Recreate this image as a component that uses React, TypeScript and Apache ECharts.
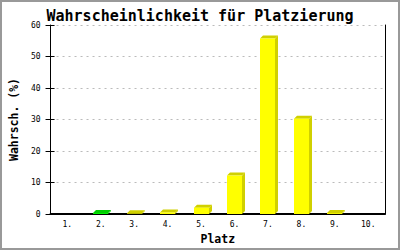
import React, { useEffect, useRef } from "react";
import * as echarts from "echarts";

const categories = ["1.", "2.", "3.", "4.", "5.", "6.", "7.", "8.", "9.", "10."];
const values = [0, 0.3, 0.2, 0.5, 2.0, 12.2, 55.7, 30.2, 0.3, 0];
const highlightIndex = 1;
const yTicks = [0, 10, 20, 30, 40, 50, 60];

const FONT = "DejaVu Sans Mono";

export default function App() {
  const ref = useRef<HTMLDivElement>(null);
  useEffect(() => {
    if (!ref.current) return;
    const chart = echarts.init(ref.current, null, { renderer: "svg" });
    const yMin = yTicks[0];
    const yMax = yTicks[yTicks.length - 1];
    const interval = yTicks[1] - yTicks[0];
    const yCommon = { type: "value" as const, min: yMin, max: yMax, interval };
    chart.setOption({
      animation: false,
      backgroundColor: "#ffffff",
      title: {
        text: "Wahrscheinlichkeit für Platzierung",
        left: "center",
        top: 3,
        textStyle: { fontFamily: FONT, fontSize: 15, fontWeight: "bold", color: "#000" },
      },
      graphic: [
        {
          type: "rect",
          shape: { x: 1, y: 1, width: 398, height: 248 },
          style: { fill: "none", stroke: "#999999", lineWidth: 2 },
          silent: true,
        },
      ],
      grid: { left: 43, right: 15, top: 25, bottom: 36 },
      xAxis: {
        type: "category",
        data: categories,
        boundaryGap: true,
        axisLine: { show: true, lineStyle: { color: "#000", width: 2 } },
        axisTick: { show: false },
        axisLabel: { fontFamily: FONT, fontSize: 8, color: "#000", margin: 6 },
        splitLine: { show: false },
        name: "Platz",
        nameLocation: "middle",
        nameGap: 18,
        nameTextStyle: { fontFamily: FONT, fontSize: 11.5, fontWeight: "bold", color: "#000" },
      },
      yAxis: [
        {
          ...yCommon,
          position: "left",
          axisLine: { show: true, lineStyle: { color: "#000", width: 1 } },
          axisTick: { show: true, length: 5, lineStyle: { color: "#000" } },
          axisLabel: { fontFamily: FONT, fontSize: 8, color: "#000", margin: 10 },
          splitLine: { show: true, lineStyle: { color: "#bbbbbb", type: [2, 4], width: 1 } },
          name: "Wahrsch. (%)",
          nameLocation: "middle",
          nameRotate: 90,
          nameGap: 24,
          nameTextStyle: { fontFamily: FONT, fontSize: 11.5, fontWeight: "bold", color: "#000" },
        },
        {
          ...yCommon,
          position: "left",
          axisLine: { show: false },
          axisTick: { show: true, inside: true, length: 4, lineStyle: { color: "#000" } },
          axisLabel: { show: false },
          splitLine: { show: false },
        },
        {
          ...yCommon,
          position: "right",
          axisLine: { show: true, lineStyle: { color: "#000", width: 1 } },
          axisTick: { show: false },
          axisLabel: { show: false },
          splitLine: { show: false },
        },
      ],
      series: [
        {
          type: "custom",
          xAxisIndex: 0,
          yAxisIndex: 0,
          data: values.map((v, i) => [i, v]),
          encode: { x: 0, y: 1 },
          renderItem: (params: any, api: any) => {
            const idx = api.value(0);
            const v = api.value(1);
            if (!v) return { type: "group", children: [] };
            const [cx, yTop] = api.coord([idx, v]);
            const [, yBase] = api.coord([idx, 0]);
            const bw = 15;
            const d = 3;
            const x0 = Math.round(cx - bw / 2);
            const x1 = x0 + bw;
            const hi = params.dataIndex === highlightIndex;
            const front = hi ? "#00ff00" : "#ffff00";
            const dark = hi ? "#00cc00" : "#d0d000";
            return {
              type: "group",
              children: [
                {
                  type: "polygon",
                  shape: { points: [[x1, yTop], [x1 + d, yTop - d], [x1 + d, yBase - d], [x1, yBase]] },
                  style: { fill: dark },
                },
                {
                  type: "polygon",
                  shape: { points: [[x0, yTop], [x0 + d, yTop - d], [x1 + d, yTop - d], [x1, yTop]] },
                  style: { fill: dark },
                },
                {
                  type: "rect",
                  shape: { x: x0, y: yTop, width: bw, height: yBase - yTop },
                  style: { fill: front },
                },
              ],
            };
          },
        },
      ],
    });
    return () => chart.dispose();
  }, []);
  return (
    <div style={{ position: "fixed", left: 0, top: 0, width: 400, height: 250 }}>
      <div ref={ref} style={{ width: 400, height: 250 }} />
    </div>
  );
}
